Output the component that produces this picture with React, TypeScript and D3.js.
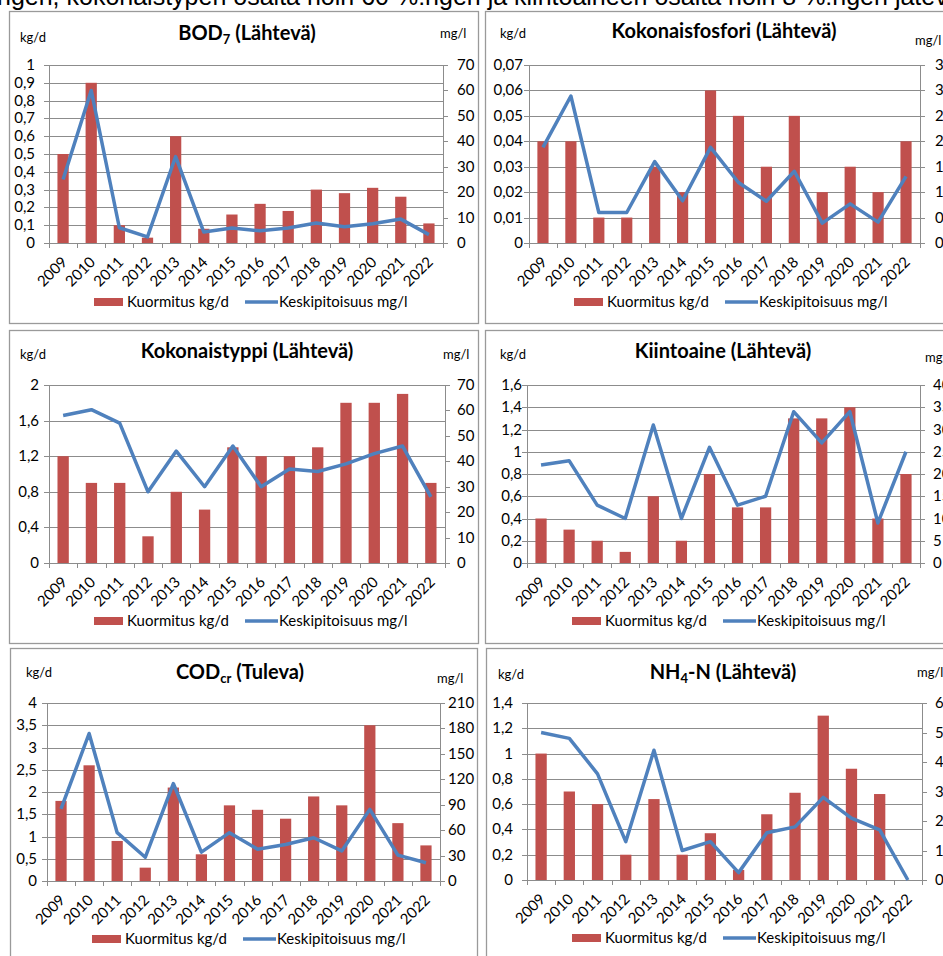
import React from 'react';
import * as d3 from 'd3';

const years = ['2009', '2010', '2011', '2012', '2013', '2014', '2015', '2016', '2017', '2018', '2019', '2020', '2021', '2022'];

// BOD7 (Lähtevä)
const bodLoad = [0.5, 0.9, 0.1, 0.03, 0.6, 0.08, 0.16, 0.22, 0.18, 0.3, 0.28, 0.31, 0.26, 0.11];
const bodConc = [25, 60, 6, 2.4, 34, 4.3, 5.9, 4.8, 5.9, 7.9, 6.4, 7.6, 9.4, 3.3];

// Kokonaisfosfori (Lähtevä)
const pLoad = [0.04, 0.04, 0.01, 0.01, 0.03, 0.02, 0.06, 0.05, 0.03, 0.05, 0.02, 0.03, 0.02, 0.04];
const pConc = [1.88, 2.89, 0.6, 0.6, 1.6, 0.83, 1.88, 1.19, 0.82, 1.41, 0.39, 0.77, 0.41, 1.31];

// Kokonaistyppi (Lähtevä)
const nLoad = [1.2, 0.9, 0.9, 0.3, 0.8, 0.6, 1.3, 1.2, 1.2, 1.3, 1.8, 1.8, 1.9, 0.9];
const nConc = [58, 60.3, 55, 28, 44, 30, 46, 30, 37, 36, 39, 43, 46, 26];

// Kiintoaine (Lähtevä)
const ssLoad = [0.4, 0.3, 0.2, 0.1, 0.6, 0.2, 0.8, 0.5, 0.5, 1.3, 1.3, 1.4, 0.4, 0.8];
const ssConc = [22, 23, 13, 10, 31, 10, 26, 13, 15, 34, 27, 34, 9, 25];

// CODcr (Tuleva)
const codLoad = [1.8, 2.6, 0.9, 0.3, 2.1, 0.6, 1.7, 1.6, 1.4, 1.9, 1.7, 3.5, 1.3, 0.8];
const codConc = [85, 174, 57, 28, 115, 34, 57, 37.5, 43, 51, 35.5, 84.5, 30.5, 21.5];

// NH4-N (Lähtevä)
const nhLoad = [1.0, 0.7, 0.6, 0.2, 0.64, 0.2, 0.37, 0.08, 0.52, 0.69, 1.3, 0.88, 0.68, 0];
const nhConc = [50, 48, 36, 13, 44, 10, 13, 2.5, 16, 18, 28, 21, 17, 0];

const legendLoad = 'Kuormitus kg/d';
const legendConc = 'Keskipitoisuus mg/l';
const topText = 'ngen, kokonaistypen osalta noin 60 %:ngen ja kiintoaineen osalta noin 8 %:ngen jätev';

const BAR = '#C0504D';
const LINE = '#4F81BD';
const GRID = '#8C8C8C';
const FONT = 'Lato, "Open Sans", sans-serif';

type TitlePart = { t: string; sub?: boolean };

type PanelCfg = {
  frame: { x: number; y: number; w: number; h: number };
  plot: { l: number; r: number; t: number; b: number };
  leftMax: number; leftStep: number;
  rightMax: number; rightStep: number;
  load: number[]; conc: number[];
  title: TitlePart[]; titleX: number; titleY: number;
  kgX: number; kgY: number; mgX: number; mgY: number;
  leftGap: number; rightGap: number;
  legendY: number;
};

const fmt = (v: number) => String(+v.toFixed(4)).replace('.', ',');

const ticks = (max: number, step: number) => {
  const n = Math.round(max / step);
  return d3.range(n + 1).map(i => +(i * step).toFixed(6));
};

function Panel({ c }: { c: PanelCfg }) {
  const { plot } = c;
  const x = d3.scaleBand<string>().domain(years).range([plot.l, plot.r]).padding(0);
  const bw = x.bandwidth();
  const barW = bw * 0.4;
  const yL = d3.scaleLinear().domain([0, c.leftMax]).range([plot.b, plot.t]);
  const yR = d3.scaleLinear().domain([0, c.rightMax]).range([plot.b, plot.t]);
  const line = d3.line<number>()
    .x((_, i) => (x(years[i]) as number) + bw / 2)
    .y(d => yR(d));
  const lt = ticks(c.leftMax, c.leftStep);
  const rt = ticks(c.rightMax, c.rightStep);
  const fs = 15;
  return (
    <g>
      <rect x={c.frame.x + 0.5} y={c.frame.y + 0.5} width={c.frame.w} height={c.frame.h} fill="#fff" stroke="#9a9a9a" strokeWidth={1.3} />
      <text x={c.titleX} y={c.titleY} textAnchor="middle" fontFamily={FONT} fontWeight="bold" fontSize={20} fill="#000">
        {c.title.map((p, i) => p.sub
          ? <tspan key={i} fontSize={13} dy={4}>{p.t}</tspan>
          : <tspan key={i} dy={i > 0 && c.title[i - 1].sub ? -4 : 0}>{p.t}</tspan>)}
      </text>
      <text x={c.kgX} y={c.kgY} fontFamily={FONT} fontSize={13} fill="#000">kg/d</text>
      <text x={c.mgX} y={c.mgY} fontFamily={FONT} fontSize={13} fill="#000">mg/l</text>
      {lt.map(v => (
        <g key={'l' + v}>
          <line x1={plot.l - 5} x2={plot.r} y1={Math.round(yL(v)) + 0.5} y2={Math.round(yL(v)) + 0.5} stroke={GRID} strokeWidth={1} />
          <text x={plot.l - c.leftGap} y={yL(v) + 5} textAnchor="end" fontFamily={FONT} fontSize={fs} fill="#000">{fmt(v)}</text>
        </g>
      ))}
      {rt.map(v => (
        <g key={'r' + v}>
          <line x1={plot.r} x2={plot.r + 5} y1={Math.round(yR(v)) + 0.5} y2={Math.round(yR(v)) + 0.5} stroke={GRID} strokeWidth={1} />
          <text x={plot.r + c.rightGap} y={yR(v) + 5} textAnchor="start" fontFamily={FONT} fontSize={fs} fill="#000">{fmt(v)}</text>
        </g>
      ))}
      <line x1={plot.l + 0.5} x2={plot.l + 0.5} y1={plot.t} y2={plot.b} stroke={GRID} strokeWidth={1} />
      <line x1={plot.r + 0.5} x2={plot.r + 0.5} y1={plot.t} y2={plot.b} stroke={GRID} strokeWidth={1} />
      {years.map((yr, i) => (
        <rect key={'b' + yr} x={(x(yr) as number) + (bw - barW) / 2} y={yL(c.load[i])} width={barW} height={plot.b - yL(c.load[i])} fill={BAR} />
      ))}
      {[...years, 'end'].map((yr, i) => {
        const xx = Math.round(plot.l + i * bw) + 0.5;
        return <line key={'xt' + i} x1={xx} x2={xx} y1={plot.b} y2={plot.b + 5} stroke={GRID} strokeWidth={1} />;
      })}
      <line x1={plot.l} x2={plot.r} y1={plot.b + 0.5} y2={plot.b + 0.5} stroke={GRID} strokeWidth={1.2} />
      <path d={line(c.conc) || ''} fill="none" stroke={LINE} strokeWidth={3.5} strokeLinejoin="round" strokeLinecap="butt" />
      {years.map(yr => {
        const cx = (x(yr) as number) + bw / 2 + 5;
        const cy = plot.b + 20;
        return (
          <text key={'xl' + yr} transform={`translate(${cx},${cy}) rotate(-45)`} textAnchor="end" fontFamily={FONT} fontSize={fs} fill="#000">{yr}</text>
        );
      })}
      <rect x={plot.l + 45} y={c.legendY - 4} width={29} height={8} fill={BAR} />
      <text x={plot.l + 78} y={c.legendY + 5} fontFamily={FONT} fontSize={fs} fill="#000">{legendLoad}</text>
      <line x1={plot.l + 196} x2={plot.l + 229} y1={c.legendY} y2={c.legendY} stroke={LINE} strokeWidth={3.5} />
      <text x={plot.l + 230} y={c.legendY + 5} fontFamily={FONT} fontSize={fs} fill="#000">{legendConc}</text>
    </g>
  );
}

const panels: PanelCfg[] = [
  {
    frame: { x: 9, y: 11, w: 469, h: 312 }, plot: { l: 49, r: 443, t: 65, b: 243 },
    leftMax: 1, leftStep: 0.1, rightMax: 70, rightStep: 10, load: bodLoad, conc: bodConc,
    title: [{ t: 'BOD' }, { t: '7', sub: true }, { t: ' (Lähtevä)' }], titleX: 247, titleY: 40,
    kgX: 20, kgY: 42, mgX: 440, mgY: 38, leftGap: 14, rightGap: 14, legendY: 302,
  },
  {
    frame: { x: 485, y: 11, w: 470, h: 312 }, plot: { l: 529, r: 920, t: 65, b: 243 },
    leftMax: 0.07, leftStep: 0.01, rightMax: 3.5, rightStep: 0.5, load: pLoad, conc: pConc,
    title: [{ t: 'Kokonaisfosfori (Lähtevä)' }], titleX: 724, titleY: 38,
    kgX: 500, kgY: 38, mgX: 915, mgY: 45, leftGap: 6, rightGap: 15, legendY: 302,
  },
  {
    frame: { x: 9, y: 330, w: 469, h: 313 }, plot: { l: 49, r: 445, t: 385, b: 563 },
    leftMax: 2, leftStep: 0.4, rightMax: 70, rightStep: 10, load: nLoad, conc: nConc,
    title: [{ t: 'Kokonaistyppi (Lähtevä)' }], titleX: 247, titleY: 358,
    kgX: 20, kgY: 359, mgX: 443, mgY: 359, leftGap: 10, rightGap: 12, legendY: 621,
  },
  {
    frame: { x: 485, y: 330, w: 470, h: 313 }, plot: { l: 527, r: 920, t: 385, b: 563 },
    leftMax: 1.6, leftStep: 0.2, rightMax: 40, rightStep: 5, load: ssLoad, conc: ssConc,
    title: [{ t: 'Kiintoaine (Lähtevä)' }], titleX: 723, titleY: 358,
    kgX: 500, kgY: 359, mgX: 925, mgY: 362, leftGap: 5, rightGap: 13, legendY: 621,
  },
  {
    frame: { x: 10, y: 648, w: 467, h: 320 }, plot: { l: 47, r: 440, t: 703, b: 881 },
    leftMax: 4, leftStep: 0.5, rightMax: 210, rightStep: 30, load: codLoad, conc: codConc,
    title: [{ t: 'COD' }, { t: 'cr', sub: true }, { t: ' (Tuleva)' }], titleX: 240, titleY: 679,
    kgX: 26, kgY: 677, mgX: 437, mgY: 683, leftGap: 10, rightGap: 8, legendY: 939,
  },
  {
    frame: { x: 486, y: 648, w: 470, h: 320 }, plot: { l: 527, r: 922, t: 703, b: 880 },
    leftMax: 1.4, leftStep: 0.2, rightMax: 60, rightStep: 10, load: nhLoad, conc: nhConc,
    title: [{ t: 'NH' }, { t: '4', sub: true }, { t: '-N (Lähtevä)' }], titleX: 723, titleY: 679,
    kgX: 498, kgY: 679, mgX: 917, mgY: 677, leftGap: 14, rightGap: 13, legendY: 938,
  },
];

export default function App() {
  return (
    <svg width={943} height={956} style={{ position: 'absolute', left: 0, top: 0, background: '#fff' }}>
      <rect x={0} y={0} width={943} height={956} fill="#fff" />
      <text x={-3} y={5} fontFamily='"Liberation Sans", Arial, sans-serif' fontSize={25} fill="#000">{topText}</text>
      {panels.map((p, i) => <Panel key={i} c={p} />)}
    </svg>
  );
}
